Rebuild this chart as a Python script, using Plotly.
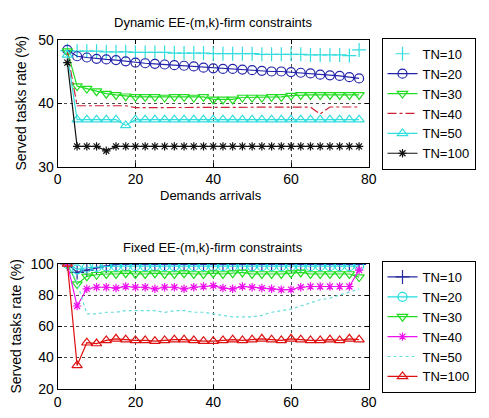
import plotly.graph_objects as go

x = [2.5 * k for k in range(1, 32)]

# Top: Dynamic EE-(m,k)-firm constraints
dyn_tn10 = [48.3, 48.2, 48.2, 48.2, 48.1, 48.1, 48.1, 48.0, 48.0, 48.0, 48.0, 47.9, 47.9, 47.9, 47.9, 47.8,
            47.8, 47.8, 47.8, 47.8, 47.7, 47.7, 47.7, 47.7, 47.7, 47.6, 47.6, 47.6, 47.6, 47.5, 48.4]
dyn_tn20 = [48.4, 47.4, 47.2, 47.0, 46.9, 46.8, 46.6, 46.4, 46.3, 46.2, 46.1, 46.0, 45.9, 45.8, 45.6, 45.5,
            45.4, 45.4, 45.3, 45.2, 45.1, 45.0, 45.0, 44.9, 44.8, 44.7, 44.5, 44.4, 44.3, 44.1, 43.9]
dyn_tn30 = [48.2, 42.7, 42.3, 41.9, 41.5, 41.3, 41.1, 41.0, 41.0, 41.0, 40.9, 41.0, 41.0, 40.9, 41.0, 40.6,
            40.6, 40.6, 40.9, 40.9, 40.9, 41.0, 41.0, 41.2, 41.3, 41.3, 41.3, 41.3, 41.3, 41.3, 41.3]
dyn_tn40 = [48.0, 39.6, 39.6, 39.6, 39.6, 39.6, 39.6, 39.3, 39.3, 39.3, 39.3, 39.3, 39.3, 39.3, 39.3, 39.3,
            39.3, 39.3, 39.3, 39.3, 39.4, 39.4, 39.4, 39.4, 39.4, 39.4, 38.3, 39.4, 39.4, 39.4, 39.4]
dyn_tn50 = [47.6, 37.4, 37.4, 37.4, 37.4, 37.4, 36.5, 37.4, 37.4, 37.4, 37.4, 37.4, 37.4, 37.4, 37.4, 37.4,
            37.4, 37.4, 37.4, 37.4, 37.4, 37.4, 37.4, 37.4, 37.4, 37.4, 37.4, 37.4, 37.4, 37.4, 37.4]
dyn_tn100 = [46.4, 33.2, 33.2, 33.2, 32.5, 33.2, 33.2, 33.2, 33.2, 33.2, 33.2, 33.2, 33.2, 33.2, 33.2, 33.2,
             33.2, 33.2, 33.2, 33.2, 33.2, 33.2, 33.2, 33.2, 33.2, 33.2, 33.2, 33.2, 33.2, 33.2, 33.2]

# Bottom: Fixed EE-(m,k)-firm constraints
fix_tn10 = [100, 94.5, 96, 97.5, 98.6, 99.6, 99.7, 99.7, 99.7, 99.7, 99.7, 99.7, 99.7, 99.7, 99.7, 99.7,
            99.7, 99.7, 99.7, 99.7, 99.7, 99.7, 99.7, 99.7, 99.7, 99.7, 99.7, 99.7, 99.7, 99.7, 99.7]
fix_tn20 = [100, 96.5, 97.5, 98.0, 98.3, 98.5, 98.5, 98.5, 98.4, 98.5, 98.5, 98.4, 98.5, 98.5, 98.5, 98.4,
            98.5, 98.5, 98.5, 98.4, 98.5, 98.5, 98.5, 98.5, 98.4, 98.5, 98.5, 98.5, 98.5, 98.5, 98.5]
fix_tn30 = [100, 87, 92, 93, 93.5, 93.5, 94, 93.5, 93.5, 94, 93.5, 93.5, 94, 93.5, 93.5, 94,
            93.5, 94, 94.5, 93.5, 93.5, 93.5, 93.5, 94, 94.5, 93.5, 93.5, 93.5, 93.5, 93.5, 91.5]
fix_tn40 = [100, 73, 84, 85, 85, 84.5, 85.5, 85, 85, 84, 85, 85, 84, 85, 85.5, 86,
            84.5, 84, 85.5, 85, 84.5, 84, 83.5, 83.5, 85, 85.5, 85.5, 85.5, 85.5, 85.5, 96]
fix_tn50 = [100, 88, 68, 68, 69, 69, 70, 70, 70, 70, 69, 70, 70, 69, 69, 68,
            67, 66, 66, 66, 67, 69, 70, 71, 73, 75, 77, 78, 80, 82, 84]
fix_tn100 = [100, 35, 49.5, 49, 51, 52, 51.5, 51, 51, 50.5, 51, 51.5, 51.5, 51, 50.5, 50.5,
             51, 51.5, 51, 51.5, 52, 51.5, 51, 52, 51.5, 51, 51, 51.5, 51, 52, 51.5]

labels = ["TN=10", "TN=20", "TN=30", "TN=40", "TN=50", "TN=100"]

FONT = "Liberation Sans, Arial, sans-serif"
fig = go.Figure()

top_specs = [
    (dyn_tn10, "#33dddd", "markers", "cross-thin-open", 10, "solid"),
    (dyn_tn20, "#2323aa", "lines+markers", "circle-open", 9, "solid"),
    (dyn_tn30, "#22dd22", "lines+markers", "triangle-down-open", 9, "solid"),
    (dyn_tn40, "#cc2233", "lines", "circle", 1, "dashdot"),
    (dyn_tn50, "#33dddd", "lines+markers", "triangle-up-open", 9, "solid"),
    (dyn_tn100, "#111111", "lines+markers", "asterisk-open", 7, "solid"),
]
for i, (ys, col, mode, sym, sz, dash) in enumerate(top_specs):
    fig.add_trace(go.Scatter(
        x=x, y=ys, mode=mode, name=labels[i], xaxis="x", yaxis="y",
        line=dict(color=col, width=1.2, dash=dash),
        marker=dict(symbol=sym, size=sz, color=col, line=dict(color=col, width=1.2)),
        legend="legend", legendgroup="t%d" % i,
    ))

bot_specs = [
    (fix_tn10, "#2a2aa0", "lines+markers", "cross-thin-open", 10, "solid"),
    (fix_tn20, "#22dddd", "lines+markers", "circle-open", 9, "solid"),
    (fix_tn30, "#22dd22", "lines+markers", "triangle-down-open", 9, "solid"),
    (fix_tn40, "#ee11ee", "lines+markers", "asterisk-open", 7, "solid"),
    (fix_tn50, "#66dddd", "lines", "circle", 1, "dot"),
    (fix_tn100, "#dd1111", "lines+markers", "triangle-up-open", 9, "solid"),
]
for i, (ys, col, mode, sym, sz, dash) in enumerate(bot_specs):
    fig.add_trace(go.Scatter(
        x=x, y=ys, mode=mode, name=labels[i], xaxis="x2", yaxis="y2",
        line=dict(color=col, width=1.2, dash=dash),
        marker=dict(symbol=sym, size=sz, color=col, line=dict(color=col, width=1.2)),
        legend="legend2", legendgroup="b%d" % i,
    ))

W, H = 489, 418
def px_x(p): return p / W
def px_y(p): return 1 - p / H

axis_common = dict(
    showline=True, linecolor="black", linewidth=1, mirror="allticks",
    ticks="inside", ticklen=4, tickcolor="black",
    showgrid=True, gridcolor="rgba(0,0,0,0.7)", griddash="dot", gridwidth=1,
    zeroline=False, tickfont=dict(family=FONT, size=14, color="black"),
)

fig.update_layout(
    width=W, height=H, margin=dict(l=0, r=0, t=0, b=0),
    paper_bgcolor="white", plot_bgcolor="white",
    font=dict(family=FONT, size=12, color="black"),
    xaxis=dict(domain=[px_x(55), px_x(374)], range=[0, 80], tickvals=[0, 20, 40, 60, 80],
               anchor="y", **axis_common),
    yaxis=dict(domain=[px_y(165), px_y(33)], range=[30, 50], tickvals=[30, 40, 50],
               anchor="x",
               title=dict(text="Served tasks rate (%)", font=dict(family=FONT, size=14), standoff=8),
               **axis_common),
    xaxis2=dict(domain=[px_x(55), px_x(374)], range=[0, 80], tickvals=[0, 20, 40, 60, 80],
                anchor="y2", **axis_common),
    yaxis2=dict(domain=[px_y(396), px_y(266)], range=[20, 100], tickvals=[20, 40, 60, 80, 100],
                anchor="x2",
                title=dict(text="Served tasks rate (%)", font=dict(family=FONT, size=14), standoff=5),
                **axis_common),
    legend=dict(x=px_x(387), y=px_y(31), xanchor="left", yanchor="top",
                bordercolor="black", borderwidth=1, bgcolor="white",
                font=dict(family=FONT, size=13), tracegroupgap=0, itemwidth=30),
    legend2=dict(x=px_x(387), y=px_y(263), xanchor="left", yanchor="top",
                 bordercolor="black", borderwidth=1, bgcolor="white",
                 font=dict(family=FONT, size=13), tracegroupgap=0, itemwidth=30),
    annotations=[
        dict(text="Dynamic EE-(m,k)-firm constraints", x=px_x(214), y=px_y(15), xref="paper", yref="paper",
             showarrow=False, font=dict(family=FONT, size=13), xanchor="center", yanchor="middle"),
        dict(text="Demands arrivals", x=px_x(212), y=px_y(195), xref="paper", yref="paper",
             showarrow=False, font=dict(family=FONT, size=13), xanchor="center", yanchor="middle"),
        dict(text="Fixed EE-(m,k)-firm constraints", x=px_x(214), y=px_y(249), xref="paper", yref="paper",
             showarrow=False, font=dict(family=FONT, size=13), xanchor="center", yanchor="middle"),
    ],
)

fig.write_html("out.html", config={"displayModeBar": False},
               post_script="document.body.style.margin='0';document.body.style.overflow='hidden';")
